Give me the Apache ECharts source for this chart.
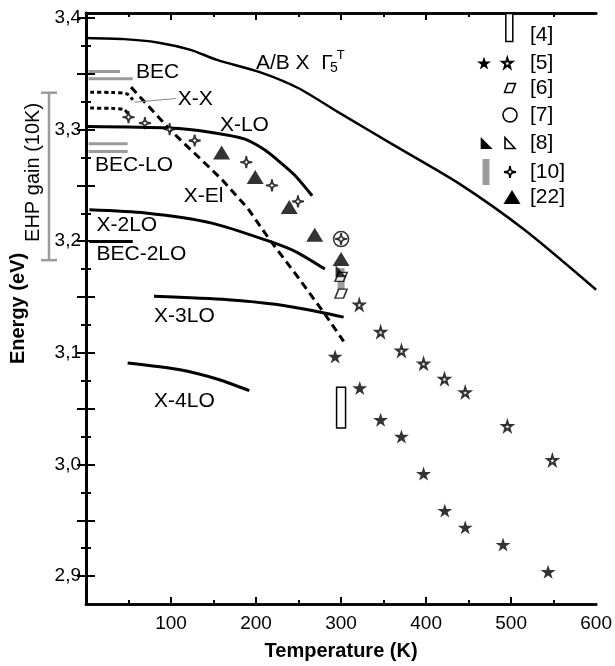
<!DOCTYPE html>
<html><head><meta charset="utf-8">
<script src="https://cdn.jsdelivr.net/npm/echarts@6/dist/echarts.min.js"></script>
<style>html,body{margin:0;padding:0;background:#fff}#c{width:615px;height:666px}</style>
</head><body><div id="c"></div>
<script>
// ---------- axis ticks ----------
const xMajorTicks = [100, 200, 300, 400, 500];
const xMinorTicks = [50, 150, 250, 350, 450, 550];
const xLabelValues = [100, 200, 300, 400, 500, 600];
const yMajorTicks = [2.9, 2.95, 3.0, 3.05, 3.1, 3.15, 3.2, 3.25, 3.3, 3.35, 3.4];
const yMinorTicks = [2.925, 2.975, 3.025, 3.075, 3.125, 3.175, 3.225, 3.275, 3.325, 3.375];
const yLabelValues = [2.9, 3.0, 3.1, 3.2, 3.3, 3.4];

// ---------- curves (T in K, E in eV) ----------
const abT = [0, 45, 84, 123, 154, 206, 250, 300, 361, 438, 516, 600];
const abE = [3.382, 3.381, 3.378, 3.3714, 3.3624, 3.351, 3.337, 3.314, 3.2865, 3.252, 3.210, 3.1565];
const xloT = [2, 98, 148, 187, 210, 225, 245, 266];
const xloE = [3.3027, 3.3013, 3.2974, 3.2914, 3.2819, 3.2729, 3.2595, 3.2407];
const x2loT = [4, 70, 148, 216, 247, 281];
const x2loE = [3.2281, 3.2252, 3.2162, 3.1998, 3.1905, 3.175];
const bec2loT = [4, 55];
const bec2loE = [3.1998, 3.1998];
const x3loT = [80, 167, 225, 280, 303];
const x3loE = [3.1506, 3.1476, 3.1432, 3.1357, 3.132];
const x4loT = [49, 109, 156, 192];
const x4loE = [3.0909, 3.085, 3.0761, 3.0661];
const xelT = [53, 98, 109, 148, 160, 190, 216, 250, 280, 303];
const xelE = [3.338, 3.3005, 3.2923, 3.264, 3.255, 3.2297, 3.2013, 3.167, 3.1357, 3.1103];
const xxUpT = [5, 30, 48, 55];
const xxUpE = [3.3335, 3.3332, 3.332, 3.3266];
const xxLoT = [5, 30, 45, 50];
const xxLoE = [3.3192, 3.319, 3.3177, 3.313];
const xxLeaderT = [57, 106];
const xxLeaderE = [3.3245, 3.3278];
const becUpT = [3, 40];
const becUpE = [3.352, 3.352];
const becLoT = [3, 55];
const becLoE = [3.3454, 3.3454];
const becloUpT = [3, 49];
const becloUpE = [3.2872, 3.2872];
const becloLoT = [3, 49];
const becloLoE = [3.2803, 3.2803];
const ehpGain = [3.333, 3.183]; // EHP gain (10K) range

// ---------- data points ----------
const ref5FilledT = [293, 322, 346.5, 371, 397, 422, 446, 490.5, 543.5];
const ref5FilledE = [3.0968, 3.0685, 3.0401, 3.0251, 2.9918, 2.9587, 2.9437, 2.9283, 2.9039];
const ref5OpenT = [321.4, 346.5, 371, 397, 421.6, 446, 495.6, 548.5];
const ref5OpenE = [3.1431, 3.1187, 3.1019, 3.0903, 3.0766, 3.0646, 3.0342, 3.0038];
const ref10T = [50, 69.3, 98.4, 127.8, 188.5, 218.7, 249.3, 300];
const ref10E = [3.3111, 3.3058, 3.3004, 3.2902, 3.2708, 3.250, 3.2356, 3.202];
const ref22T = [159.5, 199, 239, 269, 300];
const ref22E = [3.2794, 3.2574, 3.2306, 3.2058, 3.184];
const ref6T = [300, 300];
const ref6E = [3.168, 3.153];
const ref7T = [300];
const ref7E = [3.2019];
const ref8T = [300];
const ref8E = [3.173];
const ref10BarT = [300];
const ref10BarLo = [3.1565];
const ref10BarHi = [3.1759];
const ref4T = [300];
const ref4Lo = [3.0327];
const ref4Hi = [3.0691];

// ---------- text annotations ----------
const annText = ['A/B X  Γ', '5', 'T', 'BEC', 'X-X', 'X-LO', 'BEC-LO', 'X-El', 'X-2LO', 'BEC-2LO', 'X-3LO', 'X-4LO'];
const annT = [199.8, 286.9, 295, 58.9, 108, 157.5, 10.5, 115, 12.3, 12.3, 80.1, 80.1];
const annE = [3.3593, 3.3553, 3.366, 3.3512, 3.3269, 3.3038, 3.2684, 3.2407, 3.2147, 3.1879, 3.1332, 3.0565];
const annSize = {'5': 14, 'T': 13};

const legendLabels = ['[4]', '[5]', '[6]', '[7]', '[8]', '[10]', '[22]'];

const FONT = '"Liberation Sans", Arial, Helvetica, sans-serif';
const STAR = 'M50,0 L61,35 L98,35 L68,57 L79,91 L50,70 L21,91 L32,57 L2,35 L39,35 Z';
const STAR4 = 'M50,0 C53,40 60,47 100,50 C60,53 53,60 50,100 C47,60 40,53 0,50 C40,47 47,40 50,0 Z';
const PARA = 'M30,0 L100,0 L70,80 L0,80 Z';
const HALF = 'M0,0 L0,100 L100,100 Z';

const zip = (a, b) => a.map((v, i) => [v, b[i]]);

function lineSeries(T, E, opt) {
  return Object.assign({
    type: 'line', data: zip(T, E), showSymbol: false, silent: true,
    xAxisIndex: 0, yAxisIndex: 0, z: 2
  }, opt);
}

const chart = echarts.init(document.getElementById('c'));

const yMin = 2.875, yMax = 3.4044;
function xAx(pos, ticks, len, labels) {
  return {
    type: 'value', position: pos, min: 0, max: 600, gridIndex: 0,
    axisLine: {show: true, lineStyle: {color: '#000', width: 2.5}},
    axisTick: {show: true, inside: true, length: len, customValues: ticks, lineStyle: {color: '#000', width: 2}},
    axisLabel: labels ? {show: true, customValues: xLabelValues, fontSize: 19, color: '#000', fontFamily: FONT, margin: 10} : {show: false},
    splitLine: {show: false}
  };
}
function yAx(pos, ticks, len, labels) {
  return {
    type: 'value', position: pos, min: yMin, max: yMax, gridIndex: 0,
    axisLine: {show: true, lineStyle: {color: '#000', width: 2.5}},
    axisTick: {show: true, inside: true, length: len, customValues: ticks, lineStyle: {color: '#000', width: 2}},
    axisLabel: labels ? {show: true, customValues: yLabelValues, fontSize: 19, color: '#000', fontFamily: FONT, margin: 5,
      formatter: v => v.toFixed(1).replace('.', ',')} : {show: false},
    splitLine: {show: false}
  };
}

const xAxes = [xAx('bottom', xMajorTicks, 7, true), xAx('bottom', xMinorTicks, 4, false),
               xAx('top', xMajorTicks, 7, false), xAx('top', xMinorTicks, 4, false)];
xAxes[0].name = 'Temperature (K)';
xAxes[0].nameLocation = 'middle';
xAxes[0].nameGap = 37;
xAxes[0].nameTextStyle = {fontSize: 20, fontWeight: 'bold', color: '#000', fontFamily: FONT};
const yAxes = [yAx('left', yMajorTicks, 9, true), yAx('left', yMinorTicks, 5, false),
               yAx('right', yMajorTicks, 9, false), yAx('right', yMinorTicks, 5, false)];
yAxes[0].name = 'Energy (eV)';
yAxes[0].nameLocation = 'middle';
yAxes[0].nameGap = 58;
yAxes[0].nameRotate = 90;
yAxes[0].nameTextStyle = {fontSize: 20, fontWeight: 'bold', color: '#000', fontFamily: FONT};

const GRAY = '#9b9b9b';

function symPath(d, cx, cy, w, h, fill, stroke, lw) {
  return {type: 'path', shape: {pathData: d, x: cx - w / 2, y: cy - h / 2, width: w, height: h, layout: 'cover'},
    style: {fill: fill, stroke: stroke || null, lineWidth: lw || 0}};
}

const legendRows = [
  {y: 35, syms: [{k: 'rect', x: 509.3, y: 27.5}]},
  {y: 63, syms: [{k: 'starF', x: 484}, {k: 'starO', x: 507.3}]},
  {y: 88, syms: [{k: 'para', x: 510}]},
  {y: 115, syms: [{k: 'circle', x: 510}]},
  {y: 143, syms: [{k: 'halfF', x: 486.7}, {k: 'halfO', x: 510}]},
  {y: 172, syms: [{k: 'bar', x: 486}, {k: 'star4', x: 510}]},
  {y: 197, syms: [{k: 'tri', x: 512}]}
];

function legendSymbol(s, cy) {
  const y = s.y != null ? s.y : cy;
  switch (s.k) {
    case 'rect': return {type: 'rect', shape: {x: s.x - 3.5, y: y - 14, width: 7, height: 28}, style: {fill: '#fff', stroke: '#000', lineWidth: 1.5}};
    case 'starF': return symPath(STAR, s.x, y, 14, 13, '#000');
    case 'starO': return symPath(STAR, s.x, y, 10, 10, '#fff', '#000', 2);
    case 'para': return symPath(PARA, s.x, y, 11, 9, '#fff', '#000', 1.5);
    case 'circle': return {type: 'circle', shape: {cx: s.x, cy: y, r: 7}, style: {fill: '#fff', stroke: '#000', lineWidth: 1.6}};
    case 'halfF': return symPath(HALF, s.x, y, 12, 12, '#000');
    case 'halfO': return symPath(HALF, s.x, y, 10, 11, '#fff', '#000', 1.6);
    case 'bar': return {type: 'rect', shape: {x: s.x - 3.5, y: y - 13, width: 7, height: 26}, style: {fill: GRAY}};
    case 'star4': return symPath(STAR4, s.x, y, 12, 12, '#fff', '#000', 1.8);
    case 'tri': return symPath('M50,0 L100,85 L0,85 Z', s.x, y, 17, 14, '#000');
  }
}

const series = [
  lineSeries(abT, abE, {smooth: 0.25, lineStyle: {color: '#000', width: 2.5}}),
  lineSeries(xloT, xloE, {smooth: 0.25, lineStyle: {color: '#000', width: 3}}),
  lineSeries(x2loT, x2loE, {smooth: 0.25, lineStyle: {color: '#000', width: 3}}),
  lineSeries(bec2loT, bec2loE, {lineStyle: {color: '#000', width: 3}}),
  lineSeries(x3loT, x3loE, {smooth: 0.25, lineStyle: {color: '#000', width: 3}}),
  lineSeries(x4loT, x4loE, {smooth: 0.25, lineStyle: {color: '#000', width: 3}}),
  lineSeries(xelT, xelE, {smooth: false, lineStyle: {color: '#000', width: 3, type: [8, 5]}}),
  lineSeries(xxUpT, xxUpE, {smooth: 0.3, lineStyle: {color: '#000', width: 3, type: [4, 3]}}),
  lineSeries(xxLoT, xxLoE, {smooth: 0.3, lineStyle: {color: '#000', width: 3, type: [4, 3]}}),
  lineSeries(xxLeaderT, xxLeaderE, {lineStyle: {color: '#888', width: 1}}),
  lineSeries(becUpT, becUpE, {lineStyle: {color: GRAY, width: 3}}),
  lineSeries(becLoT, becLoE, {lineStyle: {color: GRAY, width: 3}}),
  lineSeries(becloUpT, becloUpE, {lineStyle: {color: GRAY, width: 3}}),
  lineSeries(becloLoT, becloLoE, {lineStyle: {color: GRAY, width: 3}}),
  // [4] range rectangle
  {type: 'custom', xAxisIndex: 0, yAxisIndex: 0, clip: false, silent: true, z: 3,
    data: ref4T.map((t, i) => [t, ref4Lo[i], ref4Hi[i]]),
    renderItem: (p, api) => {
      const a = api.coord([api.value(0), api.value(2)]), b = api.coord([api.value(0), api.value(1)]);
      return {type: 'rect', shape: {x: a[0] - 4.5, y: a[1], width: 9, height: b[1] - a[1]}, style: {fill: '#fff', stroke: '#000', lineWidth: 1.5}};
    }},
  // [10] gray range bar
  {type: 'custom', xAxisIndex: 0, yAxisIndex: 0, clip: false, silent: true, z: 3,
    data: ref10BarT.map((t, i) => [t, ref10BarLo[i], ref10BarHi[i]]),
    renderItem: (p, api) => {
      const a = api.coord([api.value(0), api.value(2)]), b = api.coord([api.value(0), api.value(1)]);
      return {type: 'rect', shape: {x: a[0] - 3.5, y: a[1], width: 7, height: b[1] - a[1]}, style: {fill: GRAY}};
    }},
  // EHP gain bracket (outside left axis)
  {type: 'custom', xAxisIndex: 0, yAxisIndex: 0, clip: false, silent: true, z: 3,
    data: [[0, ehpGain[1], ehpGain[0]]],
    renderItem: (p, api) => {
      const a = api.coord([0, api.value(2)]), b = api.coord([0, api.value(1)]);
      const x = a[0] - 37;
      const ls = {stroke: GRAY, lineWidth: 2.5};
      return {type: 'group', children: [
        {type: 'line', shape: {x1: x, y1: a[1], x2: x, y2: b[1]}, style: ls},
        {type: 'line', shape: {x1: x - 8, y1: a[1], x2: x + 8, y2: a[1]}, style: ls},
        {type: 'line', shape: {x1: x - 8, y1: b[1], x2: x + 8, y2: b[1]}, style: ls},
        {type: 'text', x: a[0] - 53, y: (a[1] + b[1]) / 2 - 4, rotation: Math.PI / 2,
          style: {text: 'EHP gain (10K)', fontSize: 20, fontFamily: FONT, fill: '#000', align: 'center', verticalAlign: 'middle'}}
      ]};
    }},
  // data points
  {type: 'scatter', data: zip(ref5FilledT, ref5FilledE), symbol: 'path://' + STAR, symbolSize: [15, 14], itemStyle: {color: '#000'}, z: 4, silent: true},
  {type: 'scatter', data: zip(ref5OpenT, ref5OpenE), symbol: 'path://' + STAR, symbolSize: 10, itemStyle: {color: '#fff', borderColor: '#000', borderWidth: 2}, z: 4, silent: true},
  {type: 'scatter', data: zip(ref22T, ref22E), symbol: 'triangle', symbolSize: [17, 14], itemStyle: {color: '#000'}, z: 4, silent: true},
  {type: 'scatter', data: zip(ref6T, ref6E), symbol: 'path://' + PARA, symbolSize: [12, 9], itemStyle: {color: '#fff', borderColor: '#000', borderWidth: 1.5}, z: 4, silent: true},
  {type: 'scatter', data: zip(ref8T, ref8E), symbol: 'path://' + HALF, symbolSize: [11, 12], itemStyle: {color: '#000'}, z: 4, silent: true},
  {type: 'scatter', data: zip(ref7T, ref7E), symbol: 'circle', symbolSize: 15, itemStyle: {color: '#fff', borderColor: '#000', borderWidth: 1.6}, z: 4, silent: true},
  {type: 'scatter', data: zip(ref10T, ref10E), symbol: 'path://' + STAR4, symbolSize: 12, itemStyle: {color: '#fff', borderColor: '#000', borderWidth: 1.8}, z: 5, silent: true},
  // text annotations
  {type: 'custom', xAxisIndex: 0, yAxisIndex: 0, clip: false, silent: true, z: 6,
    data: zip(annT, annE),
    renderItem: (p, api) => {
      const c = api.coord([api.value(0), api.value(1)]);
      const txt = annText[p.dataIndex];
      return {type: 'text', x: c[0], y: c[1],
        style: {text: txt, fontSize: annSize[txt] || 21, fontFamily: FONT, fill: '#000', align: 'left', verticalAlign: 'middle'}};
    }},
  // legend block (pixel layout)
  {type: 'custom', coordinateSystem: 'none', silent: true, z: 6,
    data: legendLabels.map((l, i) => [i]),
    renderItem: (p, api) => {
      const row = legendRows[p.dataIndex];
      const kids = row.syms.map(s => legendSymbol(s, row.y));
      kids.push({type: 'text', x: 530, y: row.y,
        style: {text: legendLabels[p.dataIndex], fontSize: 21, fontFamily: FONT, fill: '#000', align: 'left', verticalAlign: 'middle'}});
      return {type: 'group', children: kids};
    }}
];

chart.setOption({
  animation: false,
  backgroundColor: '#fff',
  grid: {left: 86, right: 12.5, top: 13, bottom: 62, containLabel: false},
  xAxis: xAxes,
  yAxis: yAxes,
  series: series
});
</script></body></html>
